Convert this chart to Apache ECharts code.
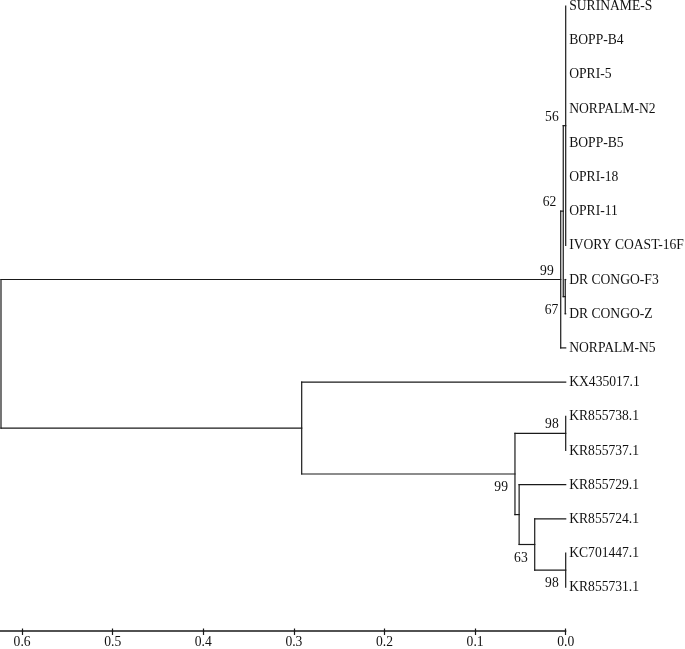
<!DOCTYPE html>
<html><head><meta charset="utf-8">
<script src="https://cdn.jsdelivr.net/npm/echarts@6/dist/echarts.min.js"></script>
<style>html,body{margin:0;padding:0;background:#fff}#c{width:685px;height:649px}</style>
</head><body><div id="c"></div>
<script>
// Leaves, top to bottom
const leafNames = ['SURINAME-S','BOPP-B4','OPRI-5','NORPALM-N2','BOPP-B5','OPRI-18','OPRI-11','IVORY COAST-16F','DR CONGO-F3','DR CONGO-Z','NORPALM-N5','KX435017.1','KR855738.1','KR855737.1','KR855729.1','KR855724.1','KC701447.1','KR855731.1'];
// Internal nodes (N0..N10): children, height (distance), bootstrap support
const nodeChildren = [
  ['L0','L1','L2','L3','L4','L5','L6','L7'],
  ['L8','L9'],
  ['N0','N1'],
  ['N2','L10'],
  ['L12','L13'],
  ['L16','L17'],
  ['L15','N5'],
  ['L14','N6'],
  ['N4','N7'],
  ['L11','N8'],
  ['N3','N9']
];
const nodeHeights = [0, 0.0005, 0.0027, 0.0055, 0, 0, 0.0342, 0.0514, 0.056, 0.2914, 0.6233];
const nodeSupport = ['56','67','62','99','98','98','63','','99','',''];
const supportSide = ['above','below','above','above','above','below','below','','below','',''];
const axisTicks = [0, 0.1, 0.2, 0.3, 0.4, 0.5, 0.6];

// layout helpers
function pos(id) {
  const k = +id.slice(1);
  if (id[0] === 'L') return {x: 0, y: k};
  const ch = nodeChildren[k];
  const a = pos(ch[0]), b = pos(ch[ch.length - 1]);
  return {x: nodeHeights[k], y: (a.y + b.y) / 2};
}
const segments = [];
nodeChildren.forEach((ch, k) => {
  const p = pos('N' + k);
  const first = pos(ch[0]), last = pos(ch[ch.length - 1]);
  segments.push([p.x, first.y, p.x, last.y]);
  ch.forEach(c => { const q = pos(c); segments.push([p.x, q.y, q.x, q.y]); });
});
const leafData = leafNames.map((n, i) => [0, i, n]);
const supportData = nodeSupport.map((s, k) => { const p = pos('N' + k); return [p.x, p.y, s, supportSide[k]]; }).filter(d => d[2]);

const FONT = "'Liberation Serif','Times New Roman',serif";
const FS = 13.6;
const INK = '#1a1a1a';
const gridBox = {left: 0, right: 119.3, top: 6, bottom: 17};
const chart = echarts.init(document.getElementById('c'), null, {renderer: 'canvas'});
chart.setOption({
  animation: false,
  backgroundColor: '#fff',
  grid: [Object.assign({}, gridBox), Object.assign({}, gridBox)],
  xAxis: [{
    gridIndex: 0, type: 'value', inverse: true, min: 0, max: 0.6244, interval: 0.1, position: 'bottom',
    axisLine: {show: true, onZero: false, lineStyle: {color: INK, width: 1.5}},
    axisTick: {show: true, length: 4, customValues: axisTicks, lineStyle: {color: INK, width: 1.2}},
    axisLabel: {customValues: axisTicks, formatter: v => (+v).toFixed(1), fontFamily: FONT, fontSize: FS, color: '#111', margin: 4},
    splitLine: {show: false}
  }, {
    gridIndex: 1, type: 'value', inverse: true, min: 0, max: 0.6244, interval: 0.1, position: 'bottom',
    axisLine: {show: false, onZero: false},
    axisTick: {show: true, inside: true, length: 3.5, customValues: axisTicks, lineStyle: {color: INK, width: 1.2}},
    axisLabel: {show: false},
    splitLine: {show: false}
  }],
  yAxis: [
    {gridIndex: 0, type: 'value', inverse: true, min: 0, max: 18.28, show: false},
    {gridIndex: 1, type: 'value', inverse: true, min: 0, max: 18.28, show: false}
  ],
  series: [{
    type: 'custom',
    data: segments,
    encode: {x: [0, 2], y: [1, 3]},
    renderItem: (params, api) => {
      const p1 = api.coord([api.value(0), api.value(1)]);
      const p2 = api.coord([api.value(2), api.value(3)]);
      return {type: 'line', shape: {x1: p1[0], y1: p1[1], x2: p2[0], y2: p2[1]}, style: {stroke: INK, lineWidth: 1.2, lineCap: 'square'}};
    }
  }, {
    type: 'custom',
    data: leafData,
    encode: {x: 0, y: 1},
    renderItem: (params, api) => {
      const p = api.coord([api.value(0), api.value(1)]);
      return {type: 'text', x: p[0] + 3.5, y: p[1] + 0.5, style: {text: leafNames[params.dataIndex], align: 'left', verticalAlign: 'middle', font: FS + 'px ' + FONT, fill: '#111'}};
    }
  }, {
    type: 'custom',
    data: supportData.map(d => [d[0], d[1]]),
    encode: {x: 0, y: 1},
    renderItem: (params, api) => {
      const d = supportData[params.dataIndex];
      const p = api.coord([api.value(0), api.value(1)]);
      return {type: 'text', x: p[0] - 7, y: p[1] + (d[3] === 'above' ? -8.5 : 13.5), style: {text: d[2], align: 'right', verticalAlign: 'middle', font: FS + 'px ' + FONT, fill: '#111'}};
    }
  }]
});
</script></body></html>
